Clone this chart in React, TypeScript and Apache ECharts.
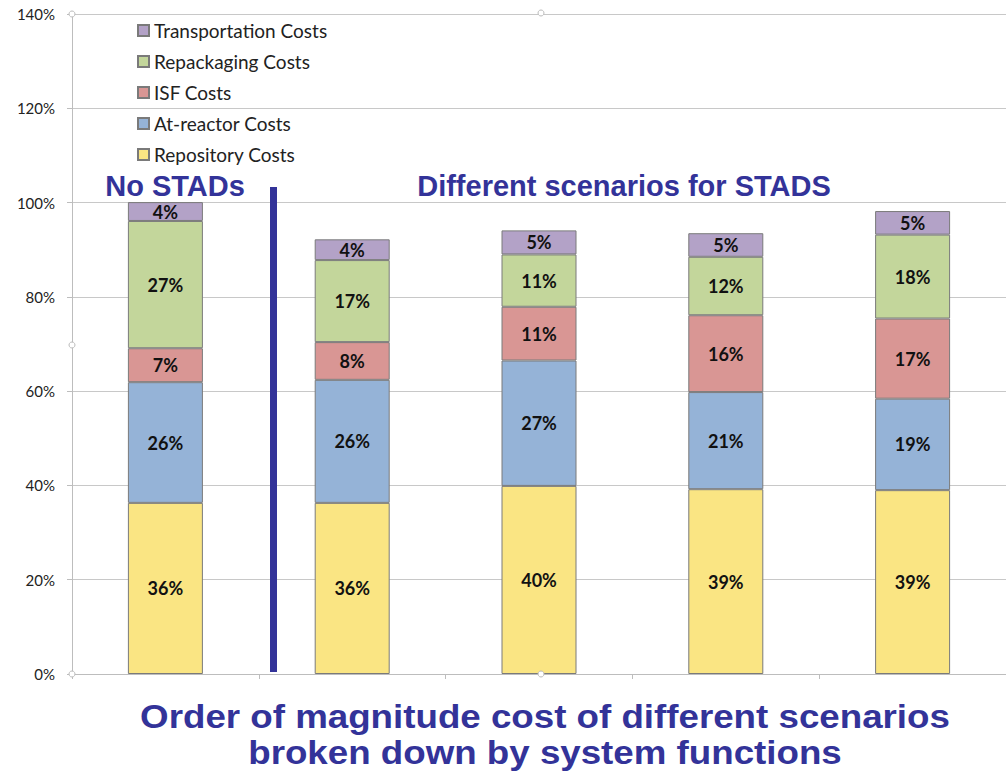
import React, { useEffect, useRef } from "react";
import * as echarts from "echarts";

const categories = ["No STADs", "Scenario 1", "Scenario 2", "Scenario 3", "Scenario 4"];
const repository = [36.3, 36.3, 39.9, 39.2, 39.0];
const atReactor = [25.6, 26.1, 26.6, 20.6, 19.4];
const isf = [7.2, 8.0, 11.4, 16.3, 17.0];
const repackaging = [27.0, 17.4, 11.1, 12.4, 17.8];
const transportation = [4.0, 4.4, 5.1, 5.0, 5.0];
const yTicks = [0, 20, 40, 60, 80, 100, 120, 140];

const seriesDefs = [
  { name: "Repository Costs", data: repository, color: "#FAE583" },
  { name: "At-reactor Costs", data: atReactor, color: "#95B3D7" },
  { name: "ISF Costs", data: isf, color: "#D99694" },
  { name: "Repackaging Costs", data: repackaging, color: "#C3D69B" },
  { name: "Transportation Costs", data: transportation, color: "#B3A2C7" },
];

const BLUE = "#333399";

export default function App() {
  const ref = useRef<HTMLDivElement>(null);
  useEffect(() => {
    const chart = echarts.init(ref.current!, null, { renderer: "svg" });
    const handle = (x: number, y: number) => ({
      type: "circle",
      shape: { cx: x, cy: y, r: 3 },
      style: { fill: "#fff", stroke: "#bbb", lineWidth: 1 },
      z: 100,
    });
    const bigText = (text: string, x: number, y: number, size: number, sx = 1) => ({
      type: "text",
      x,
      y,
      scaleX: sx,
      style: {
        text,
        fill: BLUE,
        font: `bold ${size}px 'Liberation Sans', Arial, sans-serif`,
        align: "center",
        verticalAlign: "middle",
      },
      z: 50,
    });
    chart.setOption({
      animation: false,
      backgroundColor: "#fff",
      textStyle: { fontFamily: "Lato, 'Open Sans', sans-serif" },
      grid: { left: 72, top: 14, width: 938, bottom: 98, containLabel: false },
      legend: {
        orient: "vertical",
        left: 132,
        top: 16,
        itemWidth: 11,
        itemHeight: 11,
        itemGap: 12,
        icon: "rect",
        data: seriesDefs.map((s) => s.name).reverse(),
        textStyle: { fontSize: 19, color: "#222", lineHeight: 19, fontFamily: "Lato, sans-serif" },
      },
      xAxis: {
        type: "category",
        data: categories,
        axisLine: { show: true, lineStyle: { color: "#bdbdbd", width: 1 } },
        axisTick: { show: true, length: 5, lineStyle: { color: "#bdbdbd" } },
        axisLabel: { show: false },
      },
      yAxis: {
        type: "value",
        min: 0,
        max: 140,
        interval: 20,
        axisLine: { show: true, lineStyle: { color: "#bdbdbd", width: 1 } },
        axisTick: { show: true, length: 5, lineStyle: { color: "#bdbdbd" } },
        splitLine: { lineStyle: { color: "#c8c8c8", width: 1 } },
        axisLabel: {
          formatter: (v: number) => (yTicks.includes(v) ? v + "%" : ""),
          fontSize: 15,
          color: "#222",
          margin: 17,
          fontFamily: "Lato, sans-serif",
        },
      },
      series: seriesDefs.map((s) => ({
        name: s.name,
        type: "bar",
        stack: "total",
        barWidth: 75,
        data: s.data,
        itemStyle: { color: s.color, borderColor: "#7a7a7a", borderWidth: 1 },
        label: {
          show: true,
          position: "inside",
          formatter: (p: any) => Math.round(p.value) + "%",
          fontSize: 18,
          fontWeight: "bold",
          color: "#111",
          fontFamily: "Lato, sans-serif",
        },
      })),
      graphic: [
        {
          type: "rect",
          shape: { x: 270, y: 187, width: 7, height: 485 },
          style: { fill: BLUE },
          z: 50,
        },
        bigText("No STADs", 175, 186, 29),
        bigText("Different scenarios for STADS", 624, 186, 29),
        bigText("Order of magnitude cost of different scenarios", 545, 716, 34, 1.08),
        bigText("broken down by system functions", 545, 752, 34, 1.08),
        handle(72, 14),
        handle(541, 13),
        handle(72, 345),
        handle(72, 674),
        handle(541, 674),
      ],
    });
    return () => chart.dispose();
  }, []);
  return <div ref={ref} style={{ width: 1006, height: 772, position: "absolute", left: 0, top: 0 }} />;
}
